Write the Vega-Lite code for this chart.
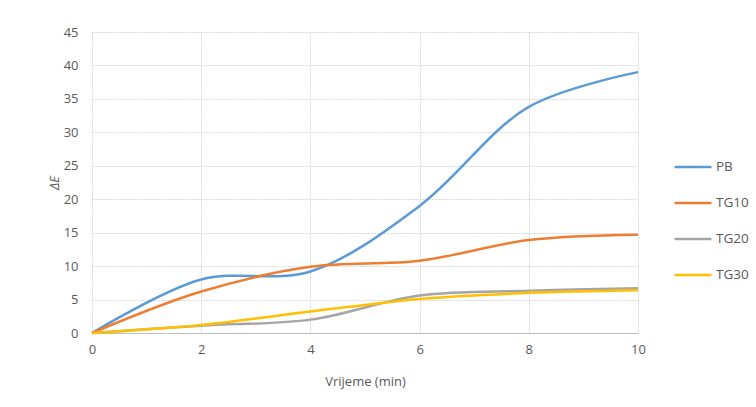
{
  "$schema": "https://vega.github.io/schema/vega-lite/v6.json",
  "width": 546,
  "height": 301,
  "autosize": "none",
  "padding": {"left": 92, "top": 32, "right": 118, "bottom": 74},
  "background": "white",
  "config": {
    "font": "Open Sans",
    "view": {"stroke": null},
    "axis": {"labelColor": "#595959", "titleColor": "#595959", "labelFontSize": 13, "titleFontSize": 13, "titleFontWeight": "normal", "gridColor": "#d9d9d9", "gridDash": [2, 1], "ticks": false}
  },
  "data": {
    "values": [
      {"t": 0, "s": "PB", "v": 0}, {"t": 2, "s": "PB", "v": 8.0}, {"t": 4, "s": "PB", "v": 9.2}, {"t": 6, "s": "PB", "v": 19.0}, {"t": 8, "s": "PB", "v": 33.8}, {"t": 10, "s": "PB", "v": 39.0},
      {"t": 0, "s": "TG10", "v": 0}, {"t": 2, "s": "TG10", "v": 6.2}, {"t": 4, "s": "TG10", "v": 9.9}, {"t": 6, "s": "TG10", "v": 10.8}, {"t": 8, "s": "TG10", "v": 13.9}, {"t": 10, "s": "TG10", "v": 14.7},
      {"t": 0, "s": "TG20", "v": 0}, {"t": 2, "s": "TG20", "v": 1.1}, {"t": 4, "s": "TG20", "v": 2.0}, {"t": 6, "s": "TG20", "v": 5.6}, {"t": 8, "s": "TG20", "v": 6.3}, {"t": 10, "s": "TG20", "v": 6.7},
      {"t": 0, "s": "TG30", "v": 0}, {"t": 2, "s": "TG30", "v": 1.2}, {"t": 4, "s": "TG30", "v": 3.2}, {"t": 6, "s": "TG30", "v": 5.1}, {"t": 8, "s": "TG30", "v": 6.0}, {"t": 10, "s": "TG30", "v": 6.4}
    ]
  },
  "mark": {"type": "line", "interpolate": "catmull-rom", "strokeWidth": 2.5},
  "encoding": {
    "x": {"field": "t", "type": "quantitative", "title": "Vrijeme (min)",
      "scale": {"domain": [0, 10], "nice": false},
      "axis": {"values": [0, 2, 4, 6, 8, 10], "labelPadding": 10, "titlePadding": 19, "domainColor": "#bfbfbf", "labelFlush": false}},
    "y": {"field": "v", "type": "quantitative", "title": "ΔE",
      "scale": {"domain": [0, 45], "nice": false},
      "axis": {"values": [0, 5, 10, 15, 20, 25, 30, 35, 40, 45], "labelPadding": 14, "titlePadding": 2, "titleFontStyle": "italic", "domain": false}},
    "color": {"field": "s", "type": "nominal", "title": null,
      "scale": {"domain": ["PB", "TG10", "TG20", "TG30"], "range": ["#5B9BD5", "#ED7D31", "#A5A5A5", "#FFC000"]},
      "legend": {"orient": "none", "legendX": 581, "legendY": 115, "symbolType": "stroke", "symbolSize": 1369, "symbolStrokeWidth": 2.5, "labelFontSize": 13.5, "labelColor": "#595959", "rowPadding": 9, "labelOffset": 3}}
  }
}
